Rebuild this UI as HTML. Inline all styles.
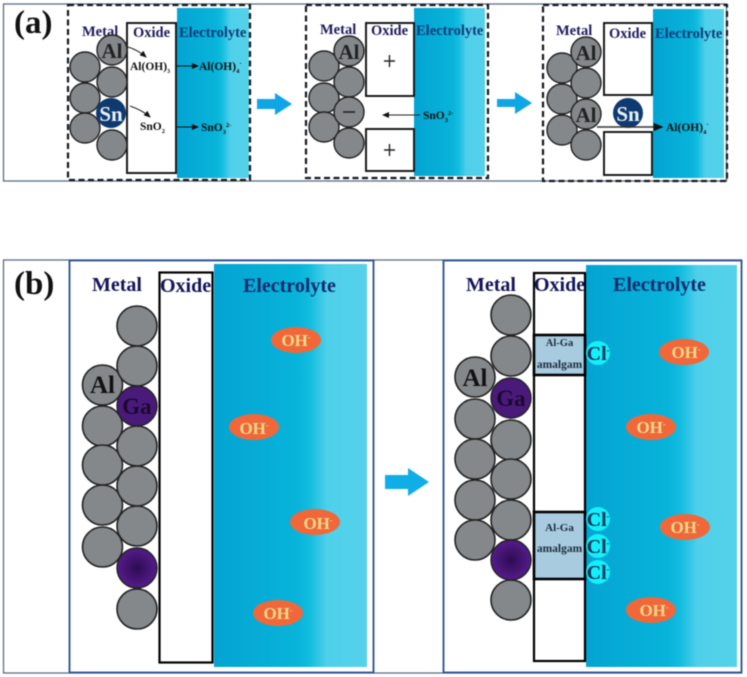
<!DOCTYPE html>
<html><head><meta charset="utf-8">
<style>
html,body{margin:0;padding:0;background:#fff;width:747px;height:677px;overflow:hidden}
svg{display:block;filter:blur(0.5px)}
text{font-family:"Liberation Serif",serif;font-weight:bold}
.m{fill:#1f1a5e;font-size:14.5px}
.e{fill:#123a78;font-size:14.5px}
.M{fill:#14145a;font-size:20px}
.E{fill:#0c2a6e;font-size:20px}
.s{fill:#111;font-size:11.5px}
.c{fill:#84888a;stroke:#222;stroke-width:1.4}
.C{fill:#84888a;stroke:#222;stroke-width:1.6}
.ox{fill:#fff;stroke:#111;stroke-width:1.9}
.OX{fill:#fff;stroke:#000;stroke-width:2.2}
.d{fill:none;stroke:#15181f;stroke-width:2.2;stroke-dasharray:6 3.5}
.oh{fill:#f0683a}
.ot{fill:#efd98a;font-size:17px}
.cl{fill:#14f0fa}
.ct{fill:#0c3058;font-size:20px}
</style></head>
<body>
<svg width="747" height="677" viewBox="0 0 747 677" xmlns="http://www.w3.org/2000/svg">
<defs>
<linearGradient id="g" x1="0" x2="1" y1="0" y2="0">
<stop offset="0" stop-color="#04a4d2"/><stop offset="0.55" stop-color="#08b4da"/><stop offset="0.63" stop-color="#14bde0"/><stop offset="0.74" stop-color="#4fd0ea"/><stop offset="1" stop-color="#55d2ea"/>
</linearGradient>
<radialGradient id="p"><stop offset="0" stop-color="#2e0b52"/><stop offset="1" stop-color="#551c8a"/></radialGradient>
<marker id="a" markerWidth="7" markerHeight="6" refX="6" refY="3" orient="auto"><path d="M0 0L7 3L0 6z" fill="#111"/></marker>
</defs>

<!-- Panel a frame -->
<rect x="3.5" y="4" width="723" height="177" fill="#fff" stroke="#5c6c84" stroke-width="1.3"/>

<!-- a1 -->
<rect x="177" y="8" width="72" height="170" fill="url(#g)"/>
<rect x="127" y="23" width="49" height="150" class="ox"/>
<rect x="68" y="5" width="182" height="175" class="d"/>
<text x="82" y="36" class="m">Metal</text>
<text x="133" y="37" class="m">Oxide</text>
<text x="179" y="37" class="e">Electrolyte</text>
<circle cx="85" cy="67" r="15" class="c"/><circle cx="85" cy="98" r="15" class="c"/><circle cx="85" cy="128" r="15" class="c"/>
<circle cx="112" cy="50" r="15" class="c"/><circle cx="112" cy="82" r="15" class="c"/><circle cx="112" cy="145" r="15" class="c"/>
<circle cx="111" cy="113" r="15" fill="#0f3a70"/>
<text x="112" y="58" text-anchor="middle" font-size="21" fill="#222">Al</text>
<text x="111" y="121" text-anchor="middle" font-size="21" fill="#e8f0f8">Sn</text>
<path d="M128 47Q138 50 146 57" fill="none" stroke="#222" marker-end="url(#a)"/>
<path d="M130 106Q142 110 150 117" fill="none" stroke="#222" marker-end="url(#a)"/>
<text x="130" y="70" class="s">Al(OH)<tspan font-size="6" dy="3">3</tspan></text>
<text x="140" y="130" class="s">SnO<tspan font-size="6.500" dy="3">2</tspan></text>
<path d="M176 66H198" stroke="#111" marker-end="url(#a)"/>
<path d="M177 127H198" stroke="#111" marker-end="url(#a)"/>
<text x="199" y="70" class="s">Al(OH)<tspan font-size="6.500" dy="3">4</tspan><tspan font-size="6.500" dy="-8">-</tspan></text>
<text x="201" y="131" class="s">SnO<tspan font-size="6.500" dy="3">3</tspan><tspan font-size="6.500" dy="-7">2-</tspan></text>
<path d="M257 99H275V93L292 104L275 115V109H257z" fill="#10a5e4"/>

<!-- a2 -->
<rect x="414" y="8" width="71" height="168" fill="url(#g)"/>
<rect x="366" y="23" width="48" height="73" class="ox"/>
<rect x="366" y="129" width="48" height="42" class="ox"/>
<rect x="306" y="5" width="182" height="173" class="d"/>
<text x="320" y="34" class="m">Metal</text>
<text x="371" y="35" class="m">Oxide</text>
<text x="416" y="35" class="e">Electrolyte</text>
<circle cx="324" cy="66" r="15" class="c"/><circle cx="324" cy="98" r="15" class="c"/><circle cx="324" cy="127" r="15" class="c"/>
<circle cx="349" cy="51" r="15" class="c"/><circle cx="349" cy="82" r="15" class="c"/><circle cx="349" cy="112" r="15" class="c"/><circle cx="349" cy="143" r="15" class="c"/>
<text x="349" y="59" text-anchor="middle" font-size="21" fill="#222">Al</text>
<path d="M343 112H355" stroke="#222" stroke-width="1.6"/>
<path d="M384 61H395M389.500 55V67" stroke="#222" stroke-width="1.4"/>
<path d="M384 150H395M389.500 144V156" stroke="#222" stroke-width="1.4"/>
<path d="M420 115H383" stroke="#222" marker-end="url(#a)"/>
<text x="423" y="119" class="s">SnO<tspan font-size="6.500" dy="3">3</tspan><tspan font-size="6.500" dy="-7">2-</tspan></text>
<path d="M497 99H515V92L532 103L515 114V107H497z" fill="#10a5e4"/>

<!-- a3 -->
<rect x="653" y="9" width="71" height="169" fill="url(#g)"/>
<rect x="604" y="23" width="48" height="72" class="ox"/>
<rect x="604" y="132" width="48" height="43" class="ox"/>
<rect x="543" y="5" width="184" height="176" class="d"/>
<text x="556" y="35" class="m">Metal</text>
<text x="609" y="38" class="m">Oxide</text>
<text x="655" y="38" class="e">Electrolyte</text>
<circle cx="562" cy="68" r="15" class="c"/><circle cx="562" cy="99" r="15" class="c"/><circle cx="562" cy="130" r="15" class="c"/>
<circle cx="586" cy="52" r="15" class="c"/><circle cx="586" cy="83" r="15" class="c"/><circle cx="586" cy="114" r="15" class="c"/><circle cx="586" cy="145" r="15" class="c"/>
<text x="586" y="60" text-anchor="middle" font-size="21" fill="#222">Al</text>
<text x="586" y="122" text-anchor="middle" font-size="21" fill="#222">Al</text>
<circle cx="628" cy="113" r="15" fill="#0f3a70"/>
<text x="628" y="121" text-anchor="middle" font-size="21" fill="#e8f0f8">Sn</text>
<path d="M597 127H662" stroke="#333" stroke-width="1.4" marker-end="url(#a)"/>
<text x="666" y="131" class="s">Al(OH)<tspan font-size="6.500" dy="3">4</tspan><tspan font-size="6.500" dy="-8">-</tspan></text>

<text x="14" y="33" font-size="33" fill="#111">(a)</text>

<!-- Panel b frame -->
<rect x="3.5" y="260" width="738" height="413" fill="#fff" stroke="#5c6c84" stroke-width="1.3"/>
<text x="14" y="294" font-size="33" fill="#111">(b)</text>

<!-- b left -->
<path d="M69.5 260.500V672.500H373.500V260.500z" fill="#fff" stroke="#2a4f94" stroke-width="1.8"/>
<rect x="214" y="264" width="153" height="403" fill="url(#g)"/>
<rect x="159.500" y="272.500" width="53" height="390" class="OX"/>
<text x="92" y="291" class="M">Metal</text>
<text x="160" y="292" class="M">Oxide</text>
<text x="243" y="292" class="E">Electrolyte</text>
<circle cx="102.500" cy="426" r="20" class="C"/><circle cx="102.500" cy="465" r="20" class="C"/><circle cx="102.500" cy="505" r="20" class="C"/><circle cx="102.500" cy="547" r="20" class="C"/>
<circle cx="102.500" cy="385" r="20" class="C"/>
<circle cx="137" cy="326" r="20" class="C"/><circle cx="137" cy="366" r="20" class="C"/><circle cx="137" cy="446" r="20" class="C"/><circle cx="137" cy="486" r="20" class="C"/><circle cx="137" cy="526" r="20" class="C"/><circle cx="137" cy="609" r="20" class="C"/>
<circle cx="137" cy="406" r="20" fill="#4a1a7a" stroke="#222" stroke-width="1.4"/>
<circle cx="137" cy="568" r="20" fill="url(#p)" stroke="#222" stroke-width="1.4"/>
<text x="102.500" y="393" text-anchor="middle" font-size="25" fill="#111">Al</text>
<text x="137" y="414" text-anchor="middle" font-size="23" fill="#1a0a30">Ga</text>
<ellipse cx="296" cy="340" rx="25" ry="13" class="oh"/><text x="296" y="346" text-anchor="middle" class="ot">OH<tspan font-size="8" dy="-6">-</tspan></text>
<ellipse cx="254" cy="427" rx="25" ry="13" class="oh"/><text x="254" y="434" text-anchor="middle" class="ot">OH<tspan font-size="8" dy="-6">-</tspan></text>
<ellipse cx="315" cy="522" rx="25" ry="13" class="oh"/><text x="318" y="529" text-anchor="middle" class="ot">OH<tspan font-size="8" dy="-6">-</tspan></text>
<ellipse cx="278" cy="613" rx="25" ry="13" class="oh"/><text x="278" y="619" text-anchor="middle" class="ot">OH<tspan font-size="8" dy="-6">-</tspan></text>

<path d="M385 475H408V468L429 482L408 496V489H385z" fill="#10aee6"/>

<!-- b right -->
<rect x="443.500" y="260.500" width="298" height="412" fill="#fff" stroke="#2a4f94" stroke-width="1.8"/>
<rect x="586" y="265" width="151" height="402" fill="url(#g)"/>
<rect x="534" y="273" width="51" height="388" class="OX"/>
<rect x="534" y="335" width="51" height="40" fill="#a8cbe0" stroke="#000" stroke-width="2.6"/>
<rect x="534" y="512" width="51" height="67" fill="#a8cbe0" stroke="#000" stroke-width="2.6"/>
<text x="466" y="291" class="M">Metal</text>
<text x="534" y="291" class="M">Oxide</text>
<text x="613" y="291" class="E">Electrolyte</text>
<text x="559.500" y="346" text-anchor="middle" font-size="10.500" fill="#1c2c3c">Al-Ga</text>
<text x="559.500" y="368" text-anchor="middle" font-size="11.500" fill="#1c2c3c">amalgam</text>
<text x="559.500" y="531" text-anchor="middle" font-size="11" fill="#1c2c3c">Al-Ga</text>
<text x="559.500" y="552" text-anchor="middle" font-size="11.500" fill="#1c2c3c">amalgam</text>
<circle cx="475" cy="419" r="20" class="C"/><circle cx="475" cy="459" r="20" class="C"/><circle cx="475" cy="500" r="20" class="C"/><circle cx="475" cy="540" r="20" class="C"/>
<circle cx="475" cy="377" r="20" class="C"/>
<circle cx="511" cy="315" r="20" class="C"/><circle cx="511" cy="356" r="20" class="C"/><circle cx="511" cy="440" r="20" class="C"/><circle cx="511" cy="479" r="20" class="C"/><circle cx="511" cy="520" r="20" class="C"/><circle cx="511" cy="600" r="20" class="C"/>
<circle cx="511" cy="398" r="20" fill="#4a1a7a" stroke="#222" stroke-width="1.4"/>
<circle cx="511" cy="560" r="20" fill="url(#p)" stroke="#222" stroke-width="1.4"/>
<text x="475" y="386" text-anchor="middle" font-size="25" fill="#111">Al</text>
<text x="511" y="406" text-anchor="middle" font-size="23" fill="#1a0a30">Ga</text>
<circle cx="598" cy="353" r="12" class="cl"/><text x="598" y="360" text-anchor="middle" class="ct">Cl<tspan font-size="8" dy="-7">-</tspan></text>
<circle cx="598" cy="519" r="12" class="cl"/><text x="598" y="526" text-anchor="middle" class="ct">Cl<tspan font-size="8" dy="-7">-</tspan></text>
<circle cx="598" cy="546" r="12" class="cl"/><text x="598" y="553" text-anchor="middle" class="ct">Cl<tspan font-size="8" dy="-7">-</tspan></text>
<circle cx="598" cy="572" r="12" class="cl"/><text x="598" y="579" text-anchor="middle" class="ct">Cl<tspan font-size="8" dy="-7">-</tspan></text>
<ellipse cx="684" cy="352" rx="25" ry="13" class="oh"/><text x="686" y="358" text-anchor="middle" class="ot">OH<tspan font-size="8" dy="-6">-</tspan></text>
<ellipse cx="651" cy="427" rx="25" ry="13" class="oh"/><text x="651" y="433" text-anchor="middle" class="ot">OH<tspan font-size="8" dy="-6">-</tspan></text>
<ellipse cx="685" cy="527" rx="25" ry="13" class="oh"/><text x="685" y="533" text-anchor="middle" class="ot">OH<tspan font-size="8" dy="-6">-</tspan></text>
<ellipse cx="651" cy="610" rx="25" ry="13" class="oh"/><text x="654" y="616" text-anchor="middle" class="ot">OH<tspan font-size="8" dy="-6">-</tspan></text>
</svg>
</body></html>
